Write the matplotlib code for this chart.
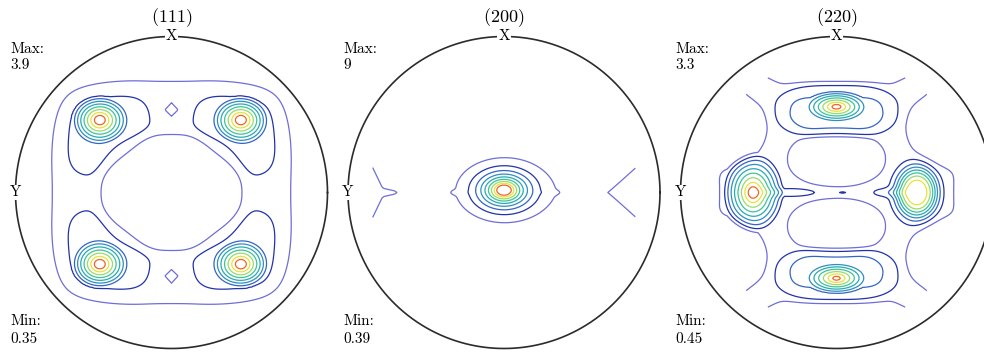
import numpy as np
import matplotlib
matplotlib.use("Agg")
import matplotlib.pyplot as plt

plt.rcParams['mathtext.fontset'] = 'cm'
plt.rcParams['font.family'] = ['cmr10', 'DejaVu Serif']

# ---------------- data ----------------
titles = ['111', '200', '220']
max_values = [3.9, 9, 3.3]
min_values = [0.35, 0.39, 0.45]
n_levels = 11

# density components per pole figure:
# centre (u to the right, v up), height, spread (su, sv), norm exponent n,
# profile exponent q (q = 0 means a linear cone)
pf111_u = [0.0, 0.0, -0.46, 0.445, -0.46, 0.445, -0.42, 0.42, -0.42, 0.42, 0.0, 0.0]
pf111_v = [0.0, 0.0, 0.465, 0.465, -0.46, -0.46, 0.38, 0.38, -0.385, -0.385, 0.53, -0.535]
pf111_h = [0.62, -0.75, 2.75, 2.75, 2.75, 2.75, 0.38, 0.38, 0.38, 0.38, -0.45, -0.45]
pf111_su = [0.81, 0.45, 0.18, 0.18, 0.18, 0.18, 0.26, 0.26, 0.26, 0.26, 0.055, 0.055]
pf111_sv = [0.755, 0.37, 0.155, 0.155, 0.155, 0.155, 0.255, 0.255, 0.255, 0.255, 0.055, 0.055]
pf111_n = [4, 3, 2, 2, 2, 2, 4, 4, 4, 4, 1, 1]
pf111_q = [10, 8, 0, 0, 0, 0, 4, 4, 4, 4, 2, 2]

pf200_u = [0.0, -1.0, -0.76, 1.0, -0.3, 0.3]
pf200_v = [0.015, 0.0, 0.0, 0.0, 0.0, 0.0]
pf200_h = [10.0, 2.16, 0.5, 2.2, 0.35, 0.35]
pf200_su = [0.136, 0.25, 0.08, 0.35, 0.05, 0.05]
pf200_sv = [0.095, 0.54, 0.015, 0.32, 0.015, 0.015]
pf200_n = [2, 1, 2, 1, 2, 2]
pf200_q = [1.2, 1, 2, 1, 2, 2]

pf220_u = [0.0, 0.0, 0.0, -0.3, 0.33, 0.04,
           -0.535, 0.515, 0.0, 0.0, 0.0, 0.0,
           0.0, 0.0, -1.0, 1.0, -0.70, 0.70, -0.70, 0.70,
           -0.55, 0.55, -0.55, 0.55]
pf220_v = [0.0, 0.215, -0.215, 0.0, 0.0, 0.0,
           0.0, 0.0, 0.55, -0.55, 0.53, -0.53,
           0.95, -0.95, 0.0, 0.0, 0.42, 0.42, -0.42, -0.42,
           0.67, 0.67, -0.67, -0.67]
pf220_h = [0.42, -0.6, -0.6, 0.3, 0.3, 0.2,
           2.48, 2.1, 1.95, 1.9, 0.5, 0.5,
           -1.16, -1.16, -0.3, -0.3, -0.6, -0.6, -0.6, -0.6,
           0.15, 0.15, 0.15, 0.15]
pf220_su = [1.05, 0.29, 0.29, 0.2, 0.11, 0.04,
            0.20, 0.13, 0.2, 0.2, 0.39, 0.39,
            0.4, 0.4, 0.25, 0.25, 0.23, 0.23, 0.23, 0.23,
            0.12, 0.12, 0.12, 0.12]
pf220_sv = [1.05, 0.165, 0.165, 0.03, 0.03, 0.012,
            0.26, 0.16, 0.1, 0.1, 0.18, 0.18,
            0.2, 0.2, 0.4, 0.4, 0.23, 0.23, 0.23, 0.23,
            0.12, 0.12, 0.12, 0.12]
pf220_n = [2, 2.2, 2.2, 2, 2, 2,
           2, 2, 2, 2, 2.5, 2.5,
           2, 2, 2, 2, 2, 2, 2, 2,
           2, 2, 2, 2]
pf220_q = [8, 5, 5, 2, 2, 2,
           0, 3, 0, 0, 8, 8,
           2, 2, 4, 4, 4, 4, 4, 4,
           2, 2, 2, 2]

components = [
    (pf111_u, pf111_v, pf111_h, pf111_su, pf111_sv, pf111_n, pf111_q),
    (pf200_u, pf200_v, pf200_h, pf200_su, pf200_sv, pf200_n, pf200_q),
    (pf220_u, pf220_v, pf220_h, pf220_su, pf220_sv, pf220_n, pf220_q),
]
data_radius = [0.99, 0.86, 0.86]

level_colors = ['#6e6ed8', '#2233aa', '#3366c4', '#2f8fc0', '#28aab4',
                '#3cc49a', '#98dc6a', '#e8e23a', '#f0642a']

# ---------------- layout ----------------
W, H = 984, 355
R = 156.0
centres_x = [171.5, 504.0, 836.5]
centre_y = 192.5

fig = plt.figure(figsize=(W / 100, H / 100), dpi=100)

g = np.linspace(-1, 1, 241)
U, V = np.meshgrid(g, g)
Rr = np.hypot(U, V)

def blob(u0, v0, h, su, sv, n, q):
    d = (np.abs((U - u0) / su) ** n + np.abs((V - v0) / sv) ** n) ** (1.0 / n)
    if q == 0:
        return h * np.clip(1.0 - d, 0.0, None)
    return h * np.exp(-d ** q)

for i in range(3):
    cx = centres_x[i]
    ax = fig.add_axes([(cx - R) / W, (H - centre_y - R) / H, 2 * R / W, 2 * R / H])
    ax.set_xlim(-1, 1)
    ax.set_ylim(-1, 1)
    ax.axis('off')

    Z = np.full_like(U, min_values[i])
    for comp in zip(*components[i]):
        Z = Z + blob(*comp)
    Z = np.ma.masked_where(Rr > data_radius[i], Z)
    levels = np.linspace(min_values[i], max_values[i], n_levels)[1:-1]
    ax.contour(U, V, Z, levels=levels, colors=level_colors, linewidths=0.9)

    t = np.linspace(0, 2 * np.pi, 721)
    ax.plot(np.cos(t), np.sin(t), color='#2b2b2b', lw=1.2, clip_on=False)

    ax.text(0, 1.0, 'X', ha='center', va='center', fontsize=11,
            bbox=dict(facecolor='white', edgecolor='none', pad=0.6), clip_on=False)
    ax.text(-1.0, 0, 'Y', ha='center', va='center', fontsize=11,
            bbox=dict(facecolor='white', edgecolor='none', pad=0.6), clip_on=False)

    lx = (cx - R - 5) / W
    fig.text(cx / W, 1 - 18 / H, r'$(\mathbf{' + titles[i] + r'})$', ha='center',
             va='center', fontsize=13)
    fig.text(lx, 1 - 49 / H, 'Max:', ha='left', va='center', fontsize=11)
    fig.text(lx, 1 - 65 / H, f'{max_values[i]:g}', ha='left', va='center', fontsize=11)
    fig.text(lx, 1 - 321 / H, 'Min:', ha='left', va='center', fontsize=11)
    fig.text(lx, 1 - 339 / H, f'{min_values[i]:g}', ha='left', va='center', fontsize=11)

fig.savefig('out.png', dpi=100, facecolor='white')
